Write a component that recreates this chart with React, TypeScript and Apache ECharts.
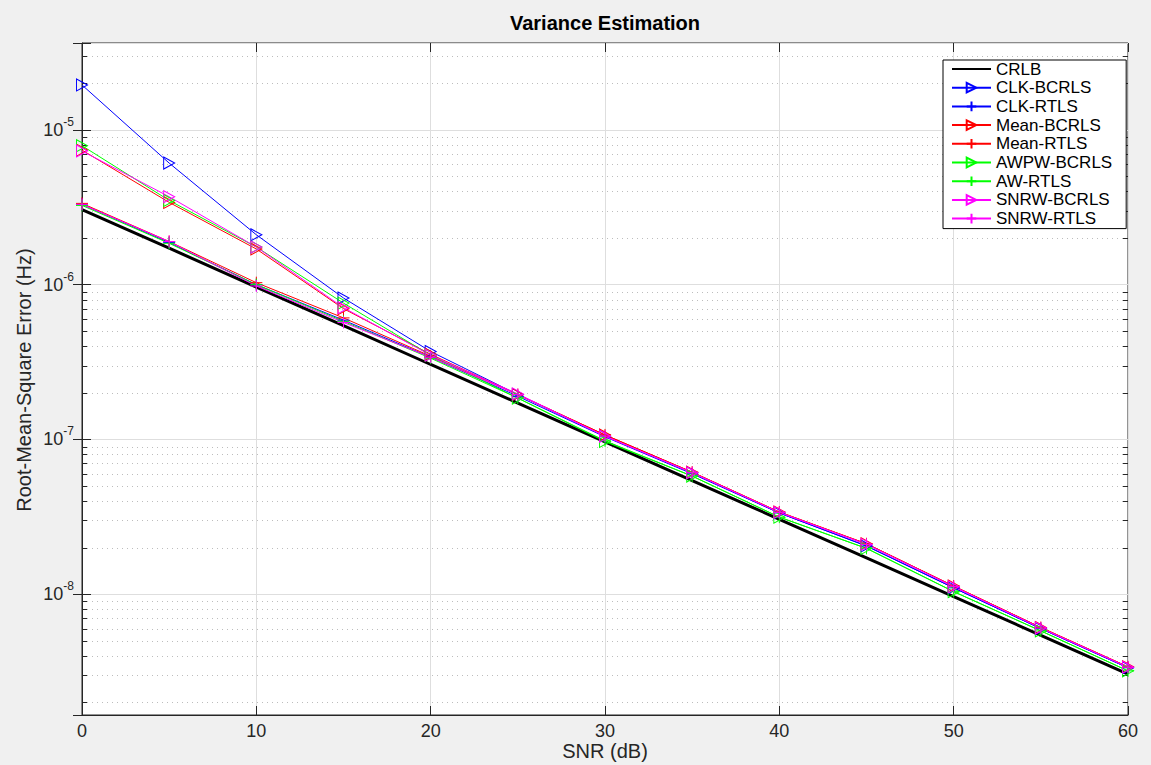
import React, { useEffect, useRef } from "react";
import * as echarts from "echarts";

const snrDb = [0, 5, 10, 15, 20, 25, 30, 35, 40, 45, 50, 55, 60];

const crlb = [3.05e-6, 1.72e-6, 9.65e-7, 5.43e-7, 3.05e-7, 1.72e-7, 9.65e-8, 5.43e-8, 3.05e-8, 1.72e-8, 9.65e-9, 5.43e-9, 3.05e-9];
const clkBcrls = [1.95e-5, 6.1e-6, 2.1e-6, 8.2e-7, 3.7e-7, 1.95e-7, 1.05e-7, 6.1e-8, 3.35e-8, 2.05e-8, 1.1e-8, 6.0e-9, 3.35e-9];
const clkRtls = [3.3e-6, 1.87e-6, 1.0e-6, 5.9e-7, 3.4e-7, 1.9e-7, 1.04e-7, 6.0e-8, 3.35e-8, 2.05e-8, 1.1e-8, 6.0e-9, 3.35e-9];
const meanBcrls = [7.4e-6, 3.4e-6, 1.7e-6, 7.0e-7, 3.55e-7, 1.95e-7, 1.07e-7, 6.15e-8, 3.4e-8, 2.12e-8, 1.13e-8, 6.1e-9, 3.4e-9];
const meanRtls = [3.35e-6, 1.9e-6, 1.03e-6, 6.1e-7, 3.45e-7, 1.95e-7, 1.07e-7, 6.15e-8, 3.4e-8, 2.12e-8, 1.13e-8, 6.1e-9, 3.4e-9];
const awpwBcrls = [7.9e-6, 3.5e-6, 1.75e-6, 7.6e-7, 3.5e-7, 1.85e-7, 9.7e-8, 5.8e-8, 3.15e-8, 1.98e-8, 1.04e-8, 5.8e-9, 3.2e-9];
const awRtls = [3.25e-6, 1.85e-6, 1.0e-6, 5.8e-7, 3.35e-7, 1.85e-7, 9.8e-8, 5.8e-8, 3.15e-8, 1.98e-8, 1.04e-8, 5.8e-9, 3.2e-9];
const snrwBcrls = [7.3e-6, 3.7e-6, 1.75e-6, 7.1e-7, 3.5e-7, 1.97e-7, 1.05e-7, 6.1e-8, 3.38e-8, 2.1e-8, 1.12e-8, 6.05e-9, 3.38e-9];
const snrwRtls = [3.3e-6, 1.9e-6, 0.98e-6, 5.7e-7, 3.4e-7, 1.95e-7, 1.05e-7, 6.1e-8, 3.38e-8, 2.1e-8, 1.12e-8, 6.05e-9, 3.38e-9];

const minorTicks = [
  2e-9, 3e-9, 4e-9, 5e-9, 6e-9, 7e-9, 8e-9, 9e-9,
  2e-8, 3e-8, 4e-8, 5e-8, 6e-8, 7e-8, 8e-8, 9e-8,
  2e-7, 3e-7, 4e-7, 5e-7, 6e-7, 7e-7, 8e-7, 9e-7,
  2e-6, 3e-6, 4e-6, 5e-6, 6e-6, 7e-6, 8e-6, 9e-6,
  2e-5, 3e-5,
];

const Y_MIN = 1.66e-9;
const Y_MAX = 3.64e-5;

const FONT = "'Liberation Sans', Arial, Helvetica, sans-serif";
const AX = "#262626";

const TRI = "path://M0,0L10,5L0,10Z";
const PLUS = "path://M5,0L5,10M0,5L10,5";

type S = { name: string; data: number[]; color: string; marker: string | null };
const seriesDefs: S[] = [
  { name: "CRLB", data: crlb, color: "#000000", marker: null },
  { name: "CLK-BCRLS", data: clkBcrls, color: "#0000ff", marker: TRI },
  { name: "CLK-RTLS", data: clkRtls, color: "#0000ff", marker: PLUS },
  { name: "Mean-BCRLS", data: meanBcrls, color: "#ff0000", marker: TRI },
  { name: "Mean-RTLS", data: meanRtls, color: "#ff0000", marker: PLUS },
  { name: "AWPW-BCRLS", data: awpwBcrls, color: "#00ff00", marker: TRI },
  { name: "AW-RTLS", data: awRtls, color: "#00ff00", marker: PLUS },
  { name: "SNRW-BCRLS", data: snrwBcrls, color: "#ff00ff", marker: TRI },
  { name: "SNRW-RTLS", data: snrwRtls, color: "#ff00ff", marker: PLUS },
];

function supLabel(v: number): string {
  const e = Math.log10(v);
  const r = Math.round(e);
  if (Math.abs(e - r) > 1e-6) return "";
  return "{b|10}{s|" + r + "}";
}

export default function App() {
  const ref = useRef<HTMLDivElement>(null);
  useEffect(() => {
    if (!ref.current) return;
    const chart = echarts.init(ref.current, undefined, { renderer: "svg" });

    const lineSeries = seriesDefs.map((d) => {
      const base: any = {
        name: d.name,
        type: "line",
        data: snrDb.map((x, i) => [x, d.data[i]]),
        lineStyle: { color: d.color, width: d.marker ? 1 : 3 },
        z: 3,
        silent: true,
      };
      if (d.marker) {
        base.symbol = d.marker;
        base.symbolSize = d.marker === TRI ? [11, 12] : [12, 12];
        base.showSymbol = true;
        base.itemStyle = { color: "rgba(0,0,0,0)", borderColor: d.color, borderWidth: 1 };
      } else {
        base.symbol = "none";
        base.itemStyle = { color: "rgba(0,0,0,0)", borderColor: "rgba(0,0,0,0)", borderWidth: 0 };
      }
      return base;
    });

    const option: any = {
      animation: false,
      backgroundColor: "#f0f0f0",
      textStyle: { fontFamily: FONT },
      grid: {
        left: 82,
        right: 23,
        top: 43,
        bottom: 50,
        show: true,
        backgroundColor: "#ffffff",
        borderColor: AX,
        borderWidth: 1,
      },
      legend: {
        orient: "vertical",
        left: 943,
        top: 60,
        data: seriesDefs.map((d) => d.name),
        itemWidth: 39,
        itemHeight: 12,
        itemGap: 0.7,
        padding: [0, 14, 1, 8],
        backgroundColor: "#ffffff",
        borderColor: "#000000",
        borderWidth: 1,
        selectedMode: false,
        textStyle: { fontSize: 17, color: "#000", fontFamily: FONT, lineHeight: 18 },
      },
      xAxis: [
        {
          type: "value",
          min: 0,
          max: 60,
          interval: 10,
          axisLine: { show: true, lineStyle: { color: AX, width: 1 } },
          axisTick: { show: true, inside: true, length: 9, lineStyle: { color: AX } },
          axisLabel: { fontSize: 18, color: AX, margin: 7, fontFamily: FONT },
          splitLine: { show: true, lineStyle: { color: "#dedede", width: 1 } },
        },
        {
          type: "value",
          position: "top",
          min: 0,
          max: 60,
          interval: 10,
          axisLine: { show: false },
          axisTick: { show: true, inside: true, length: 9, lineStyle: { color: AX } },
          axisLabel: { show: false },
          splitLine: { show: false },
        },
      ],
      yAxis: [
        {
          type: "log",
          logBase: 10,
          min: Y_MIN,
          max: Y_MAX,
          axisLine: { show: true, lineStyle: { color: AX, width: 1 } },
          axisTick: { show: true, inside: true, length: 9, lineStyle: { color: AX } },
          axisLabel: {
            margin: 8,
            color: AX,
            formatter: (v: number) => supLabel(v),
            rich: {
              b: { fontSize: 18, color: AX, fontFamily: FONT, lineHeight: 18, verticalAlign: "middle" },
              s: { fontSize: 12, color: AX, fontFamily: FONT, lineHeight: 12, padding: [0, 0, 16, 0], verticalAlign: "middle" },
            },
          },
          splitLine: { show: true, lineStyle: { color: "#dedede", width: 1 } },
        },
        {
          type: "log",
          logBase: 10,
          position: "right",
          min: Y_MIN,
          max: Y_MAX,
          axisLine: { show: false },
          axisTick: { show: true, inside: true, length: 9, lineStyle: { color: AX } },
          axisLabel: { show: false },
          splitLine: { show: false },
        },
      ],
      graphic: [
        {
          type: "text",
          x: 605,
          y: 23,
          style: {
            text: "Variance Estimation",
            font: "bold 20px " + FONT,
            fill: "#000",
            align: "center",
            verticalAlign: "middle",
            textAlign: "center",
            textVerticalAlign: "middle",
          },
        },
        {
          type: "text",
          x: 605,
          y: 751,
          style: {
            text: "SNR (dB)",
            font: "20px " + FONT,
            fill: AX,
            align: "center",
            verticalAlign: "middle",
            textAlign: "center",
            textVerticalAlign: "middle",
          },
        },
        {
          type: "text",
          x: 24,
          y: 380,
          rotation: Math.PI / 2,
          style: {
            text: "Root-Mean-Square Error (Hz)",
            font: "20px " + FONT,
            fill: AX,
            align: "center",
            verticalAlign: "middle",
            textAlign: "center",
            textVerticalAlign: "middle",
          },
        },
      ],
      series: [
        {
          name: "minor-grid",
          type: "custom",
          silent: true,
          z: 1,
          data: minorTicks.map((v) => [0, v]),
          encode: { x: 0, y: 1 },
          renderItem: (params: any, api: any) => {
            const v = api.value(1);
            const yy = Math.round(api.coord([0, v])[1]) + 0.5;
            const cs = params.coordSys;
            return {
              type: "group",
              children: [
                {
                  type: "line",
                  shape: { x1: cs.x, y1: yy, x2: cs.x + cs.width, y2: yy },
                  style: { stroke: "#bdbdbd", lineWidth: 1, lineDash: [1, 4] },
                },
                {
                  type: "line",
                  shape: { x1: cs.x, y1: yy, x2: cs.x + 5, y2: yy },
                  style: { stroke: AX, lineWidth: 1 },
                },
                {
                  type: "line",
                  shape: { x1: cs.x + cs.width - 5, y1: yy, x2: cs.x + cs.width, y2: yy },
                  style: { stroke: AX, lineWidth: 1 },
                },
              ],
            };
          },
        },
        ...lineSeries,
      ],
    };

    chart.setOption(option);
    return () => chart.dispose();
  }, []);

  return (
    <div
      ref={ref}
      style={{ position: "fixed", left: 0, top: 0, width: 1151, height: 765 }}
    />
  );
}
